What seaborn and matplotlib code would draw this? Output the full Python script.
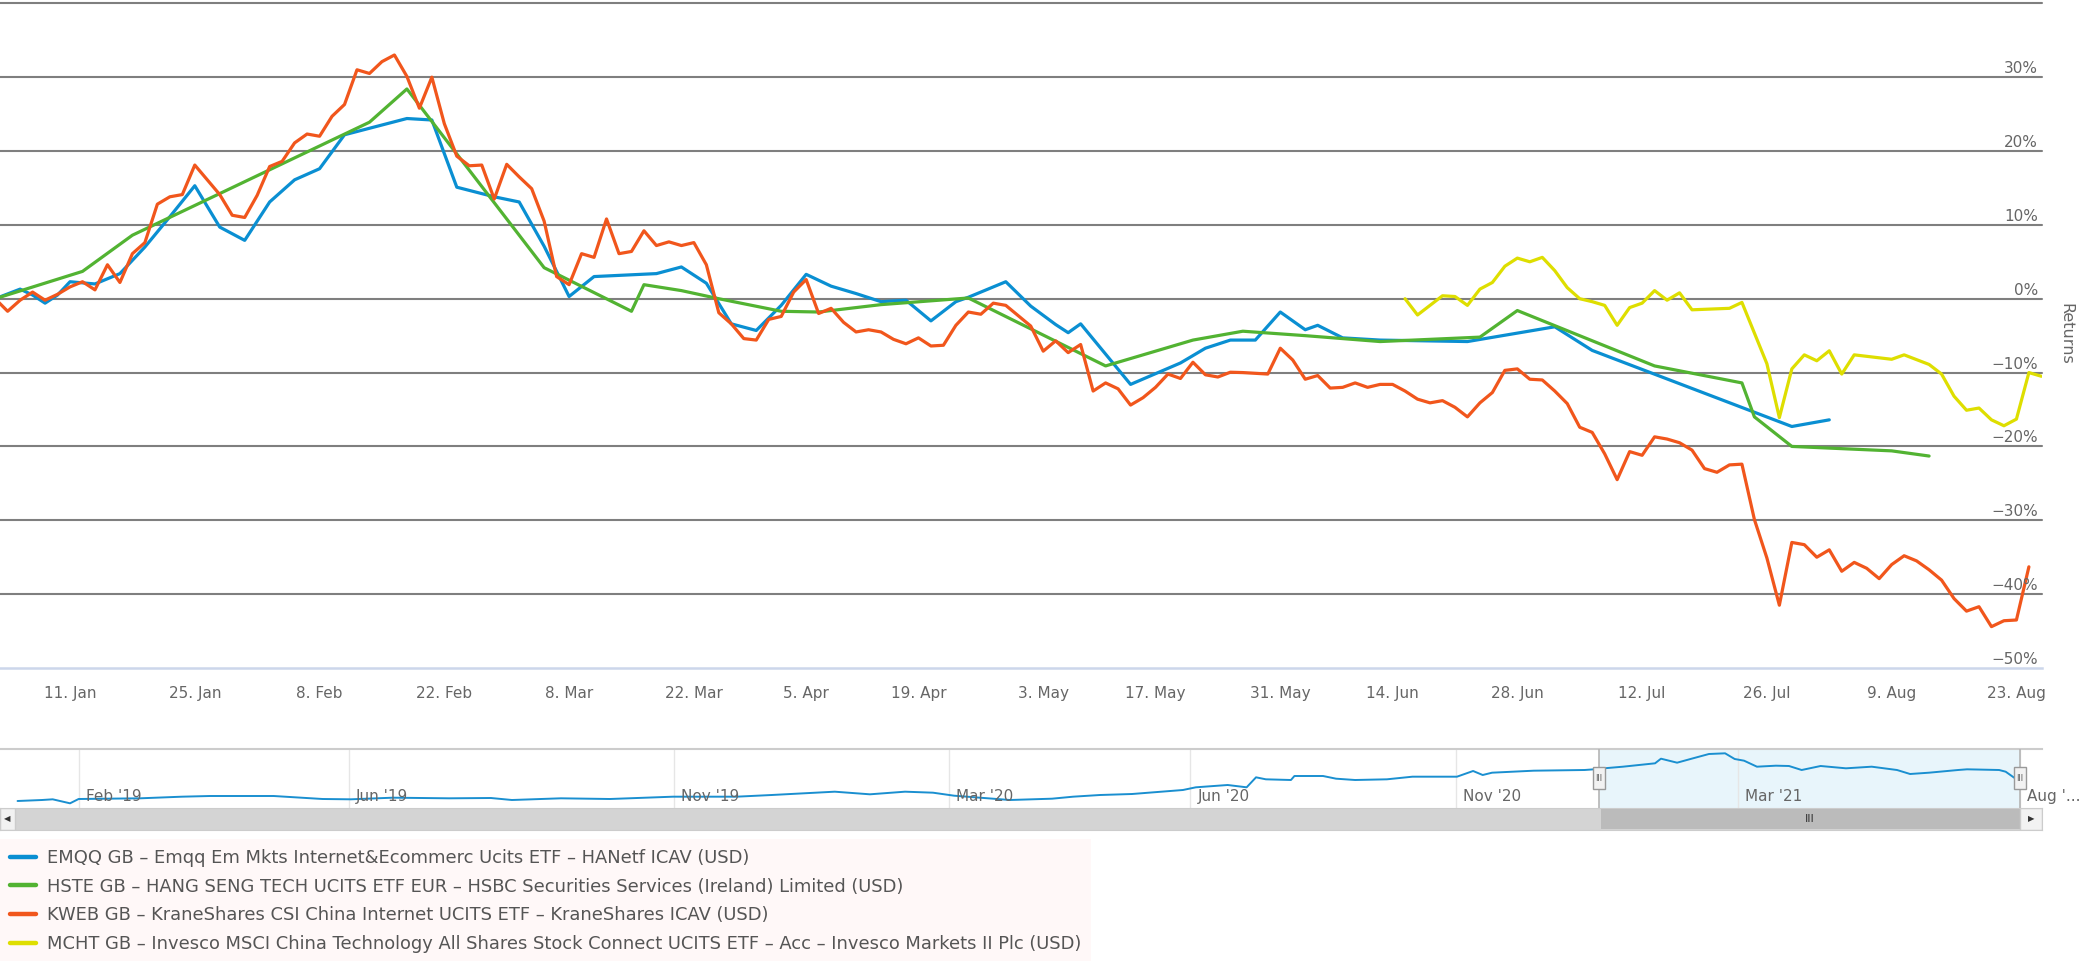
import pandas as pd
import seaborn as sns
import matplotlib.pyplot as plt
import matplotlib.transforms as mtransforms
from matplotlib.patches import Rectangle

# x = trading day number (0 = 4 Jan 2021, -1 = last close of 2020), y = return in %
kweb_days = list(range(-1, 163))
kweb_ret = [0.0, -1.7, -0.2, 0.9, -0.2, 0.6, 1.6, 2.3, 1.2, 4.6, 2.2,
            6.1, 7.6, 12.8, 13.8, 14.1, 18.1, 16.1, 14.1, 11.3, 11.0,
            14.0, 17.9, 18.6, 21.1, 22.3, 22.0, 24.7, 26.3, 31.0, 30.5,
            32.1, 33.0, 30.1, 25.8, 30.0, 23.7, 19.3, 18.0, 18.1, 13.5,
            18.2, 16.5, 14.9, 10.5, 3.0, 1.9, 6.1, 5.6, 10.8, 6.1,
            6.4, 9.2, 7.2, 7.7, 7.2, 7.6, 4.6, -1.9, -3.4, -5.4,
            -5.6, -2.8, -2.4, 0.9, 2.6, -2.0, -1.3, -3.2, -4.5, -4.2,
            -4.5, -5.5, -6.1, -5.3, -6.4, -6.3, -3.6, -1.8, -2.1, -0.6,
            -0.9, -2.3, -3.7, -7.1, -5.7, -7.3, -6.2, -12.5, -11.4, -12.2,
            -14.4, -13.4, -12.0, -10.2, -10.8, -8.6, -10.3, -10.6, -9.95, -10.0,
            -10.1, -10.2, -6.7, -8.3, -10.9, -10.4, -12.1, -12.0, -11.4, -12.0,
            -11.6, -11.6, -12.5, -13.6, -14.1, -13.8, -14.7, -16.0, -14.1, -12.7,
            -9.7, -9.5, -10.9, -11.0, -12.5, -14.2, -17.4, -18.1, -21.0, -24.5,
            -20.7, -21.2, -18.7, -19.0, -19.5, -20.5, -23.0, -23.5, -22.5, -22.4,
            -29.9, -35.1, -41.5, -33.0, -33.3, -35.0, -34.0, -36.9, -35.7, -36.5,
            -37.9, -36.0, -34.8, -35.5, -36.7, -38.1, -40.6, -42.3, -41.7, -44.4,
            -43.6, -43.5, -36.3]

emqq_days = [-1, 1, 2, 3, 4, 5, 7, 9, 11, 13, 15, 17, 19, 21, 23, 25, 27, 32, 34,
             36, 39, 41, 43, 45, 47, 52, 54, 56, 58, 60, 62, 64, 66, 68, 70, 72,
             74, 76, 77, 80, 82, 84, 85, 86, 90, 94, 96, 98, 100, 102, 104, 105,
             107, 110, 117, 124, 127, 143, 146]
emqq_ret = [0.0, 1.3, 0.5, -0.6, 0.5, 2.3, 2.0, 3.4, 7.0, 11.1, 15.3, 9.7, 7.9,
            13.1, 16.1, 17.6, 22.2, 24.4, 24.2, 15.1, 13.8, 13.1, 7.1, 0.3, 3.0,
            3.4, 4.3, 2.1, -3.4, -4.3, -0.9, 3.3, 1.7, 0.7, -0.4, -0.2, -3.0,
            -0.4, 0.2, 2.3, -1.0, -3.5, -4.6, -3.4, -11.6, -8.7, -6.7, -5.6, -5.6,
            -1.8, -4.2, -3.6, -5.3, -5.6, -5.8, -3.8, -7.0, -17.3, -16.4]

hste_days = [-1, 6, 10, 29, 32, 43, 50, 51, 54, 57, 62, 65, 70, 77, 88, 95, 99,
             104, 110, 118, 121, 132, 139, 140, 143, 151, 154]
hste_ret = [0.0, 3.7, 8.6, 23.9, 28.4, 4.2, -1.7, 1.9, 1.1, 0.0, -1.7, -1.8, -0.8,
            0.1, -9.1, -5.6, -4.4, -5.0, -5.8, -5.2, -1.6, -9.1, -11.4, -16.0,
            -20.0, -20.6, -21.3]

mcht_days = [112, 113, 115, 116, 117, 118, 119, 120, 121, 122, 123, 124, 125, 126,
             127, 128, 129, 130, 131, 132, 133, 134, 135, 138, 139, 141, 142, 143,
             144, 145, 146, 147, 148, 151, 152, 154, 155, 156, 157, 158, 159, 160,
             161, 162, 163]
mcht_ret = [0.0, -2.2, 0.4, 0.3, -0.9, 1.3, 2.2, 4.4, 5.5, 5.0, 5.6, 3.8, 1.5, 0.0,
            -0.4, -0.9, -3.6, -1.2, -0.6, 1.1, -0.2, 0.8, -1.5, -1.3, -0.5, -8.8,
            -16.1, -9.5, -7.6, -8.4, -7.05, -10.2, -7.6, -8.2, -7.6, -8.9, -10.2,
            -13.2, -15.1, -14.8, -16.4, -17.2, -16.3, -10.0, -10.5]

tick_days = [5, 15, 25, 35, 45, 55, 64, 73, 83, 92, 102, 111, 121, 131, 141, 151, 161]
tick_labels = ['11. Jan', '25. Jan', '8. Feb', '22. Feb', '8. Mar', '22. Mar',
               '5. Apr', '19. Apr', '3. May', '17. May', '31. May', '14. Jun',
               '28. Jun', '12. Jul', '26. Jul', '9. Aug', '23. Aug']
y_levels = [-50, -40, -30, -20, -10, 0, 10, 20, 30]

names = ['EMQQ GB – Emqq Em Mkts Internet&Ecommerc Ucits ETF – HANetf ICAV (USD)',
         'HSTE GB – HANG SENG TECH UCITS ETF EUR – HSBC Securities Services (Ireland) Limited (USD)',
         'KWEB GB – KraneShares CSI China Internet UCITS ETF – KraneShares ICAV (USD)',
         'MCHT GB – Invesco MSCI China Technology All Shares Stock Connect UCITS ETF – Acc – Invesco Markets II Plc (USD)']
colors = ['#0a8fd2', '#52b332', '#f1561c', '#dede00']

# navigator: whole history of EMQQ (position along navigator 0-100, rebased level)
nav_t = [0.86, 2.06, 2.58, 3.43, 3.85, 6.86, 8.91, 10.28, 13.4, 15.8, 17.18, 19.24,
         21.99, 24.04, 25.07, 27.47, 29.87, 32.96, 36.07, 37.79, 40.88, 42.6, 44.32,
         45.69, 46.72, 49.46, 51.52, 52.55, 53.87, 55.44, 57.93, 58.56, 60.12, 61.05,
         61.51, 61.99, 63.22, 63.39, 64.79, 65.43, 66.36, 67.92, 69.17, 71.35, 72.14,
         72.61, 73.07, 75.11, 77.6, 78.06, 78.55, 79.48, 81.05, 81.34, 82.13, 82.91,
         83.69, 84.48, 84.95, 85.41, 86.04, 86.97, 87.61, 88.23, 89.16, 90.4, 91.66,
         92.9, 93.54, 94.47, 95.89, 96.33, 97.9, 98.22, 98.68]
nav_level = [47.7, 49.3, 50.4, 44.0, 50.9, 52.0, 54.6, 55.7, 55.7, 50.9, 50.4, 53.0,
             52.0, 52.5, 49.3, 52.0, 50.9, 54.6, 54.6, 57.3, 62.6, 58.4, 62.6, 61.0,
             56.2, 49.3, 51.4, 54.6, 57.3, 58.9, 65.3, 69.6, 73.3, 69.6, 85.6, 82.4,
             81.3, 87.7, 87.7, 83.4, 81.3, 82.4, 86.6, 86.6, 95.7, 89.3, 93.0, 96.2,
             97.3, 98.4, 100.0, 102.6, 108.0, 115.4, 109.0, 116.0, 122.9, 124.0, 114.9,
             112.2, 102.6, 104.2, 103.7, 97.3, 103.7, 100.0, 102.6, 97.3, 90.9, 93.0,
             97.3, 98.4, 97.3, 94.6, 84.0]
nav_tick_t = [3.87, 17.09, 33.0, 46.47, 58.3, 71.3, 85.1, 98.9]
nav_tick_labels = ["Feb '19", "Jun '19", "Nov '19", "Mar '20", "Jun '20", "Nov '20",
                   "Mar '21", "Aug '..."]
sel_start, sel_end = 78.3, 98.92

frames = []
for name, d, r in zip(names, [emqq_days, hste_days, kweb_days, mcht_days],
                      [emqq_ret, hste_ret, kweb_ret, mcht_ret]):
    frames.append(pd.DataFrame({'day': d, 'ret': r, 'fund': name}))
df = pd.concat(frames, ignore_index=True)

sns.set_style('white')
plt.rcParams['font.family'] = ['DejaVu Sans']
txt = '#666666'

fig = plt.figure(figsize=(21, 9.61), dpi=100)
ax = fig.add_axes([0, 1 - 668 / 961, 2042 / 2100, 664.7 / 961])

for v in range(-40, 41, 10):
    ax.axhline(v, color='#7f7f7f', lw=1.5, zorder=0, clip_on=False)

sns.lineplot(data=df, x='day', y='ret', hue='fund', hue_order=names,
             palette=dict(zip(names, colors)), linewidth=2.3, estimator=None,
             ax=ax, legend=True)

ax.set_xlim(-0.612, 163.05)
ax.set_ylim(-50, 40)
ax.set_xlabel('')
ax.set_ylabel('')
ax.set_yticks([])
ax.set_xticks(tick_days, tick_labels)
ax.tick_params(axis='x', length=6, width=1.3, color='#ccd6eb', labelcolor=txt,
               labelsize=11, pad=7)
for s in ['top', 'left', 'right']:
    ax.spines[s].set_visible(False)
ax.spines['bottom'].set_color('#ccd6eb')
ax.spines['bottom'].set_linewidth(1.8)

trans = mtransforms.blended_transform_factory(ax.transAxes, ax.transData)
trans = mtransforms.offset_copy(trans, fig=fig, x=-4, y=4, units='dots')
for v in y_levels:
    ax.text(1.0, v, f'{v}%'.replace('-', '−'), transform=trans, ha='right',
            va='baseline', color=txt, fontsize=11)

fig.text(2066 / 2100, 1 - 334 / 961, 'Returns', rotation=270, ha='center',
         va='center', color=txt, fontsize=11.5)

# legend below, on a pale box
leg = ax.get_legend()
handles = leg.legend_handles
labels = [t.get_text() for t in leg.get_texts()]
leg.remove()
for h in handles:
    h.set_linewidth(3.2)
fig.legend(handles, labels, loc='upper left', bbox_to_anchor=(0, 1 - 839 / 961),
           frameon=True, facecolor='#fff8f8', edgecolor='none', fancybox=False,
           framealpha=1, fontsize=12.9, labelcolor='#555555', handlelength=1.46,
           handletextpad=0.62, labelspacing=0.6, borderpad=0.55, borderaxespad=0)

# navigator
nav = fig.add_axes([0, 1 - 808 / 961, 2042 / 2100, 59 / 961])
nav.axvspan(sel_start, sel_end, color='#e8f5fb', zorder=0, lw=0)
for t in nav_tick_t:
    nav.axvline(t, color='#e6e6e6', lw=1, zorder=0.5)
sns.lineplot(x=nav_t, y=nav_level, color='#1a8fd0', linewidth=1.4, ax=nav)
nav.set_xlim(0, 100)
nav.set_ylim(36.5, 130.9)
nav.set_xticks([])
nav.set_yticks([])
for s in ['bottom', 'left', 'right']:
    nav.spines[s].set_visible(False)
nav.spines['top'].set_color('#cccccc')
nav.spines['top'].set_linewidth(1.5)
ntrans = mtransforms.offset_copy(
    mtransforms.blended_transform_factory(nav.transData, nav.transAxes),
    fig=fig, x=7, units='dots')
for t, lab in zip(nav_tick_t, nav_tick_labels):
    nav.text(t, 0.19, lab, transform=ntrans, ha='left', va='center', color=txt,
             fontsize=11, clip_on=False)
btrans = mtransforms.blended_transform_factory(nav.transData, nav.transAxes)
for t in [sel_start, sel_end]:
    nav.axvline(t, color='#b5b5b5', lw=1.2, zorder=3)
    nav.add_patch(Rectangle((t - 0.3, 0.32), 0.6, 0.38, transform=btrans,
                            facecolor='#f2f2f2', edgecolor='#999999', lw=1, zorder=4))
    nav.text(t, 0.51, '|||', transform=btrans, ha='center', va='center',
             fontsize=5, color='#333333', zorder=5)

# scrollbar
sb = fig.add_axes([0, 1 - 830 / 961, 2042 / 2100, 22 / 961])
sb.set_facecolor('#d4d4d4')
sb.set_xlim(0, 100)
sb.set_ylim(0, 1)
sb.set_xticks([])
sb.set_yticks([])
for s in sb.spines.values():
    s.set_color('#cccccc')
sb.add_patch(Rectangle((sel_start + 0.1, 0.06), sel_end - sel_start - 0.1, 0.88,
                       facecolor='#bbbbbb', edgecolor='none'))
sb.text((sel_start + sel_end) / 2, 0.5, 'III', ha='center', va='center',
        fontsize=8, color='#333333')
sb.add_patch(Rectangle((0, 0), 0.73, 1, facecolor='#f2f2f2', edgecolor='#cccccc'))
sb.text(0.36, 0.5, '◀', ha='center', va='center', fontsize=6, color='#333333')
sb.add_patch(Rectangle((sel_end, 0), 100 - sel_end, 1, facecolor='#f2f2f2',
                       edgecolor='#cccccc'))
sb.text((sel_end + 100) / 2, 0.5, '▶', ha='center', va='center', fontsize=6,
        color='#333333')

fig.savefig('out.png', dpi=100)
